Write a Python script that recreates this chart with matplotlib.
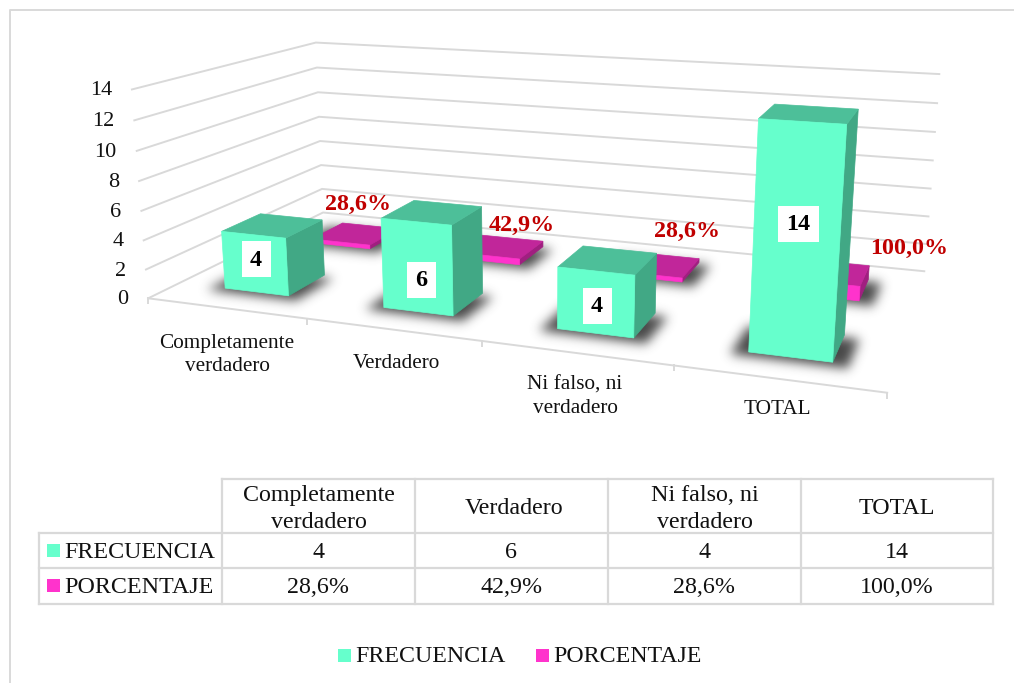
import numpy as np
import matplotlib
matplotlib.use("Agg")
import matplotlib.pyplot as plt
from matplotlib.patches import Polygon, Rectangle

plt.rcParams['font.family'] = ['Liberation Serif', 'DejaVu Serif']

categories = ["Completamente\nverdadero", "Verdadero", "Ni falso, ni\nverdadero", "TOTAL"]
series_names = ["FRECUENCIA", "PORCENTAJE"]
frecuencia = [4, 6, 4, 14]
porcentaje = [0.286, 0.429, 0.286, 1.0]
y_ticks = [0, 2, 4, 6, 8, 10, 12, 14]

GREEN = ["#66FFCC", "#4DBF99", "#41A885"]
PINK = ["#FF33CC", "#C1269A", "#A01F80"]
RED = "#C00000"
GRID = "#D9D9D9"
TXT = "#111111"

# camera fitted on the corners of the 3d box (cat, depth, value) -> pixel
calib = [
    (0, 0, 0, 148, 298), (1, 0, 0, 308, 318.5), (3, 0, 0, 673, 365), (4, 0, 0, 888, 393),
    (0, 1, 0, 323, 213), (4, 1, 0, 924, 271), (0, 0, 14, 132, 90), (0, 1, 14, 316, 42),
    (4, 1, 14, 939, 74), (0, 1, 6, 320, 141), (4, 1, 6, 931, 189), (0, 0, 6, 141, 211),
]
A, b = [], []
for X, Y, Z, u, v in calib:
    A.append([X, Y, Z, 1, 0, 0, 0, 0, -u*X, -u*Y, -u*Z])
    b.append(u)
    A.append([0, 0, 0, 0, X, Y, Z, 1, -v*X, -v*Y, -v*Z])
    b.append(v)
sol = np.linalg.lstsq(np.array(A, float), np.array(b, float), rcond=None)[0]
P = np.append(sol, 1).reshape(3, 4)


def proj(x, y, z):
    p = P @ np.array([x, y, z, 1.0])
    return p[0] / p[2], p[1] / p[2]


def blur(img, dpi, sigma=5.5):
    pad = int(sigma * 3)
    out = np.pad(img, [(pad, pad), (pad, pad), (0, 0)], "constant")
    x = np.arange(-pad, pad + 1)
    k = np.exp(-0.5 * (x / sigma) ** 2)
    k /= k.sum()
    al = out[:, :, 3]
    al = np.apply_along_axis(lambda r: np.convolve(r, k, mode="same"), 0, al)
    al = np.apply_along_axis(lambda r: np.convolve(r, k, mode="same"), 1, al)
    out[:, :, :3] = 0.2
    out[:, :, 3] = al * 0.9
    return out, -pad, -pad


fig = plt.figure(figsize=(10.14, 6.83), dpi=100)
ax = fig.add_axes([0, 0, 1, 1])
ax.set_xlim(0, 1014)
ax.set_ylim(683, 0)
ax.axis("off")

ax.plot([10, 10, 1014], [683, 10, 10], color=GRID, lw=1.4, zorder=0)

# walls, under the bars
for t in y_ticks:
    a, c, d = proj(0, 0, t), proj(0, 1, t), proj(4, 1, t)
    ax.plot([a[0], c[0], d[0]], [a[1], c[1], d[1]], color=GRID, lw=1.4, solid_joinstyle="miter", zorder=0)
    ax.text(a[0] - 20, a[1] + 1.5, str(t), ha="right", va="center", fontsize=16, color=TXT)

a, d = proj(0, 0, 0), proj(4, 0, 0)
ax.plot([a[0], d[0]], [a[1], d[1]], color=GRID, lw=1.4, zorder=0)
for i in range(len(categories) + 1):
    p = proj(i, 0, 0)
    ax.plot([p[0], p[0]], [p[1], p[1] + 5], color=GRID, lw=1.4, zorder=0)


def draw_bar(x0, x1, y0, y1, h, cols):
    foot = [proj(x0 - 0.08, y0 - 0.03, 0), proj(x1 + 0.08, y0 - 0.03, 0),
            proj(x1 + 0.08, y1 - 0.02, 0), proj(x0 - 0.08, y1 - 0.02, 0)]
    shadow = Polygon(foot, fc="#333333", ec="none")
    shadow.set_agg_filter(blur)
    ax.add_patch(shadow)
    right = [proj(x1, y0, 0), proj(x1, y1, 0), proj(x1, y1, h), proj(x1, y0, h)]
    top = [proj(x0, y0, h), proj(x1, y0, h), proj(x1, y1, h), proj(x0, y1, h)]
    front = [proj(x0, y0, 0), proj(x1, y0, 0), proj(x1, y0, h), proj(x0, y0, h)]
    ax.add_patch(Polygon(right, fc=cols[2], ec=cols[2], lw=0.5))
    ax.add_patch(Polygon(top, fc=cols[1], ec=cols[1], lw=0.5))
    ax.add_patch(Polygon(front, fc=cols[0], ec=cols[0], lw=0.5))


BAR_L, BAR_R = 0.30, 0.71
for i, v in enumerate(porcentaje):
    draw_bar(i + BAR_L, i + BAR_R, 0.653, 0.86, v, PINK)
for i, v in enumerate(frecuencia):
    draw_bar(i + BAR_L, i + BAR_R, 0.153, 0.36, v, GREEN)

# data labels
pct_pos = [(358, 203), (522, 224), (687, 230), (909, 247)]
frq_pos = [(256, 259), (421, 280), (597, 306), (798, 224)]
for v, (px, py) in zip(porcentaje, pct_pos):
    ax.text(px, py + 1, f"{v*100:.1f}%".replace(".", ","), ha="center", va="center",
            fontsize=17.3, fontweight="bold", color=RED)
for v, (px, py) in zip(frecuencia, frq_pos):
    w = 41 if v >= 10 else 29
    ax.add_patch(Rectangle((px - w / 2, py - 18), w, 36, fc="white", ec="none"))
    ax.text(px, py + 1, str(v), ha="center", va="center", fontsize=17.3, fontweight="bold", color="black")

cat_pos = [(227, 354), (396, 362), (575, 396), (777, 408)]
for c, (px, py) in zip(categories, cat_pos):
    ax.text(px, py + 1, c, ha="center", va="center", fontsize=15.3, color=TXT, linespacing=1.34)

# data table
xs = [39, 222, 415, 608, 801, 993]
ys = [479, 533, 568, 604]
for x in xs[1:]:
    ax.plot([x, x], [ys[0], ys[3]], color=GRID, lw=1.6)
ax.plot([xs[0], xs[0]], [ys[1], ys[3]], color=GRID, lw=1.6)
ax.plot([xs[1], xs[5]], [ys[0], ys[0]], color=GRID, lw=1.6)
for y in ys[1:]:
    ax.plot([xs[0], xs[5]], [y, y], color=GRID, lw=1.6)
for i, c in enumerate(categories):
    ax.text((xs[i + 1] + xs[i + 2]) / 2 + (3 if i == 1 else 0), (ys[0] + ys[1]) / 2 + 3, c,
            ha="center", va="center", fontsize=17.3, color=TXT, linespacing=1.36)
rows = [[str(v) for v in frecuencia], [f"{v*100:.1f}%".replace(".", ",") for v in porcentaje]]
for r, name in enumerate(series_names):
    cy = (ys[r + 1] + ys[r + 2]) / 2
    ax.add_patch(Rectangle((47, cy - 7), 13, 13, fc=[GREEN, PINK][r][0], ec="none"))
    ax.text(64, cy + 1.5, name, ha="left", va="center", fontsize=17.3, color=TXT)
    for i, s in enumerate(rows[r]):
        ax.text((xs[i + 1] + xs[i + 2]) / 2, cy + 1.5, s, ha="center", va="center", fontsize=17.3, color=TXT)

# legend
for name, col, mx in zip(series_names, [GREEN[0], PINK[0]], [338, 536]):
    ax.add_patch(Rectangle((mx, 649), 13, 13, fc=col, ec="none"))
    ax.text(mx + 17.5, 657, name, ha="left", va="center", fontsize=17.2, color=TXT)

fig.savefig("out.png", dpi=100)
